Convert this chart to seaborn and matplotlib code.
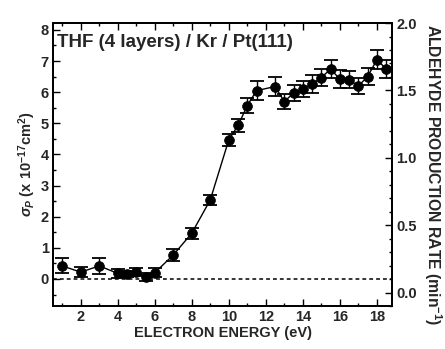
import matplotlib
matplotlib.use("Agg")
import matplotlib.pyplot as plt
from matplotlib.ticker import MultipleLocator
import seaborn as sns
import pandas as pd

# Electron energy (eV), cross-section sigma_P (1e-17 cm^2) and its uncertainty
energy = [1.0, 2.0, 3.0, 4.0, 4.5, 5.0, 5.5, 6.0, 7.0, 8.0, 9.0, 10.0, 10.5, 11.0,
          11.5, 12.5, 13.0, 13.5, 14.0, 14.5, 15.0, 15.5, 16.0, 16.5, 17.0, 17.5,
          18.0, 18.5]
sigma = [0.42, 0.22, 0.42, 0.18, 0.15, 0.22, 0.07, 0.20, 0.77, 1.47, 2.54, 4.47,
         4.93, 5.57, 6.05, 6.18, 5.70, 5.97, 6.10, 6.26, 6.47, 6.74, 6.42, 6.40,
         6.20, 6.50, 7.04, 6.75]
sigma_err = [0.24, 0.15, 0.25, 0.15, 0.10, 0.12, 0.12, 0.15, 0.20, 0.17, 0.17,
             0.20, 0.20, 0.25, 0.30, 0.30, 0.25, 0.25, 0.25, 0.30, 0.28, 0.30,
             0.28, 0.28, 0.25, 0.28, 0.30, 0.28]
rate_ticks = [0.0, 0.5, 1.0, 1.5, 2.0]

df = pd.DataFrame({"energy": energy, "sigma": sigma})

sns.set_theme(style="ticks")
plt.rcParams["font.family"] = ["Liberation Sans", "DejaVu Sans"]
plt.rcParams["mathtext.fontset"] = "custom"
plt.rcParams["mathtext.rm"] = "Liberation Sans:bold"
plt.rcParams["mathtext.it"] = "Liberation Sans:bold:italic"
plt.rcParams["mathtext.bf"] = "Liberation Sans:bold"

fig = plt.figure(figsize=(4.45, 3.49), dpi=100)
ax = fig.add_axes([0.119, 0.123, 0.762, 0.811])

ax.axhline(0, color="black", lw=1.1, ls=(0, (2.5, 2)), zorder=1)
sns.lineplot(data=df, x="energy", y="sigma", ax=ax, color="black", lw=1.0,
             zorder=2)
ax.errorbar(energy, sigma, yerr=sigma_err, fmt="none", ecolor="black",
            elinewidth=1.0, capsize=5, capthick=1.3, zorder=3)
sns.scatterplot(data=df, x="energy", y="sigma", ax=ax, color="black", s=50,
                edgecolor="black", linewidth=0.5, zorder=4)

ax.set_xlim(0.5, 18.82)
ax.set_ylim(-0.87, 8.22)
ax.xaxis.set_major_locator(MultipleLocator(2))
ax.xaxis.set_minor_locator(MultipleLocator(1))
ax.yaxis.set_major_locator(MultipleLocator(1))
ax.yaxis.set_minor_locator(MultipleLocator(0.5))
ax.tick_params(which="both", direction="in", top=True, right=False,
               color="black", width=1.0)
ax.tick_params(which="major", length=5, labelsize=10.5, pad=3)
ax.tick_params(which="minor", length=2.5)
for lab in ax.get_xticklabels() + ax.get_yticklabels():
    lab.set_fontweight("bold")
for sp in ax.spines.values():
    sp.set_color("black")
    sp.set_linewidth(1.3)

ax.set_xlabel("ELECTRON ENERGY (eV)", fontsize=10.5, fontweight="bold",
              labelpad=1)
ax.set_ylabel(r"$\sigma_P$ (x 10$^{-17}$cm$^2$)", fontsize=10.5,
              fontweight="bold", labelpad=2)

ax.text(0.012, 0.96, "THF (4 layers) / Kr / Pt(111)", transform=ax.transAxes,
        fontsize=13.5, fontweight="bold", ha="left", va="top")

# Second scale: aldehyde production rate
ax2 = ax.twinx()
ax2.set_ylim(-0.1, 2.0)
ax2.yaxis.set_minor_locator(MultipleLocator(0.1))
ax2.tick_params(which="both", direction="in", color="black", width=1.0)
ax2.tick_params(which="major", length=5, labelsize=10.5, pad=3)
ax2.tick_params(which="minor", length=2.5)
ax2.set_yticks(rate_ticks)
ax2.set_yticklabels([f"{t:.1f}" for t in rate_ticks], fontweight="bold")
for sp in ax2.spines.values():
    sp.set_color("black")
    sp.set_linewidth(1.3)

fig.text(0.972, 0.5, r"ALDEHYDE PRODUCTION RATE (min$^{-1}$)", fontsize=11.3,
         fontweight="bold", rotation=-90, ha="center", va="center")

fig.savefig("out.png", dpi=100)
